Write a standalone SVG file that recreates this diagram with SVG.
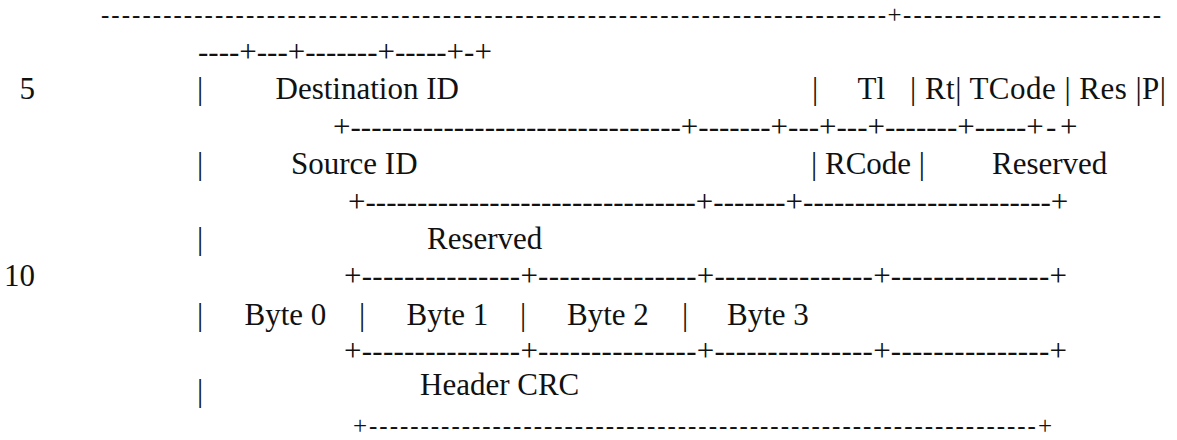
<svg xmlns="http://www.w3.org/2000/svg" width="1177" height="440" viewBox="0 0 1177 440">
<style>
text{font-family:"Liberation Serif","Times New Roman",serif;font-size:31px;fill:#111;white-space:pre}
.num{text-anchor:end}
.edge{font-size:25px}
</style>
<rect width="1177" height="440" fill="#fff"/>
<g id="lines">
<g id="l1">
<text class="edge" x="101" y="23.1" textLength="785" lengthAdjust="spacing">----------------------------------------------------------------------------</text>
<text class="edge" x="887.5" y="23.1">+</text>
<text class="edge" x="903" y="23.1" textLength="258" lengthAdjust="spacing">-------------------------</text>
</g>
<text id="l2" x="198" y="62">----+---+-------+-----+-+</text>
<text id="l4" x="333" y="136.7">+--------------------------------+-------+---+---+-------+-----+<tspan x="1046">-</tspan><tspan x="1060">+</tspan></text>
<text id="l6" x="348" y="211.5">+--------------------------------+-------+------------------------+</text>
<text id="l8" x="344" y="286.3" textLength="723" lengthAdjust="spacing">+---------------+---------------+---------------+---------------+</text>
<text id="l10" x="344" y="361.1" textLength="723" lengthAdjust="spacing">+---------------+---------------+---------------+---------------+</text>
<text id="l12" class="edge" x="353" y="434.3" textLength="699" lengthAdjust="spacing">+-----------------------------------------------------------------+</text>
</g>
<g id="line-numbers">
<text class="num" x="35" y="99.3">5</text>
<text class="num" x="35" y="286.3">10</text>
</g>
<g id="row-destination">
<text x="197" y="99.3">|</text>
<text x="275.5" y="99.3">Destination ID</text>
<text x="812" y="99.3">|</text>
<text x="857.5" y="99.3">Tl</text>
<text x="910" y="99.3" textLength="256" lengthAdjust="spacing">| Rt| TCode | Res |P|</text>
</g>
<g id="row-source">
<text x="197" y="174.1">|</text>
<text x="291" y="174.1">Source ID</text>
<text x="811" y="174.1">| RCode |</text>
<text x="992" y="174.1">Reserved</text>
</g>
<g id="row-reserved">
<text x="197" y="248.9">|</text>
<text x="427" y="248.9">Reserved</text>
</g>
<g id="row-bytes">
<text x="197" y="325">|</text>
<text x="244.5" y="325">Byte 0</text>
<text x="359" y="325">|</text>
<text x="406.5" y="325">Byte 1</text>
<text x="520" y="325">|</text>
<text x="567" y="325">Byte 2</text>
<text x="682" y="325">|</text>
<text x="727" y="325">Byte 3</text>
</g>
<g id="row-crc">
<text x="197" y="400.5">|</text>
<text x="420" y="395">Header CRC</text>
</g>
</svg>
